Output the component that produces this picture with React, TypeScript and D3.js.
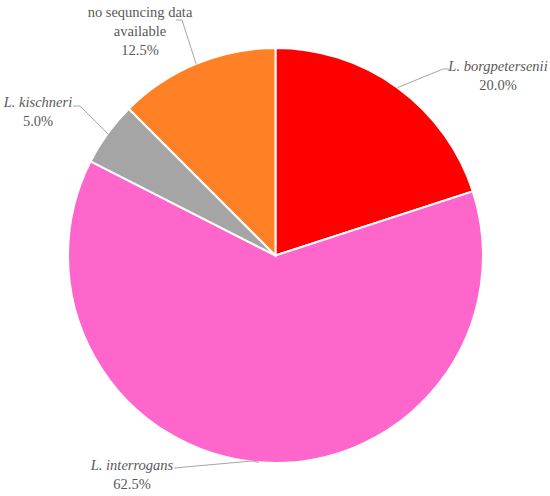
import React from "react";
import * as d3 from "d3";

const categories = ["L. borgpetersenii", "L. interrogans", "L. kischneri", "no sequncing data available"];
const values = [20.0, 62.5, 5.0, 12.5];
const percentLabels = ["20.0%", "62.5%", "5.0%", "12.5%"];
const colors = ["#FF0000", "#FF66CC", "#A5A5A5", "#FF8025"];

const W = 550, H = 496;
const cx = 275.5, cy = 255.5, R = 207.5;

// label layout: elbow point, leader end, text centre x, first baseline y
const labelLayout = [
  { elbow: [443, 69], end: [449, 69], tx: 498, ty: 71, italic: true, split: [categories[0]] },
  { elbow: [252, 461], end: [174, 468], tx: 132, ty: 470, italic: true, split: [categories[1]] },
  { elbow: [80, 106], end: [73, 106], tx: 38, ty: 107, italic: true, split: [categories[2]] },
  { elbow: [182, 20], end: [176, 20], tx: 140, ty: 17, italic: false, split: ["no sequncing data", "available"] },
];

export default function App() {
  const pie = d3.pie<number>().sort(null).value((d) => d)(values);
  const arc = d3.arc<d3.PieArcDatum<number>>().innerRadius(0).outerRadius(R);
  const font = "'Liberation Serif', serif";
  const lh = 19;
  return (
    <svg width={W} height={H} style={{ position: "absolute", left: 0, top: 0 }}>
      <rect width={W} height={H} fill="#fff" />
      <g transform={`translate(${cx},${cy})`}>
        {pie.map((p, i) => (
          <path key={i} d={arc(p) || ""} fill={colors[i]} stroke="#fff" strokeWidth={2} />
        ))}
      </g>
      {pie.map((p, i) => {
        const a = (p.startAngle + p.endAngle) / 2;
        const sx = cx + R * Math.sin(a);
        const sy = cy - R * Math.cos(a);
        const L = labelLayout[i];
        const lines = [...L.split.map((t) => ({ t, italic: L.italic })), { t: percentLabels[i], italic: false }];
        return (
          <g key={i}>
            <polyline
              points={`${sx},${sy} ${L.elbow[0]},${L.elbow[1]} ${L.end[0]},${L.end[1]}`}
              fill="none"
              stroke="#A6A6A6"
              strokeWidth={1}
            />
            <text textAnchor="middle" fontFamily={font} fontSize={14.5} fill="#595959">
              {lines.map((ln, j) => (
                <tspan key={j} x={L.tx} y={L.ty + j * lh} fontStyle={ln.italic ? "italic" : "normal"}>
                  {ln.t}
                </tspan>
              ))}
            </text>
          </g>
        );
      })}
    </svg>
  );
}
